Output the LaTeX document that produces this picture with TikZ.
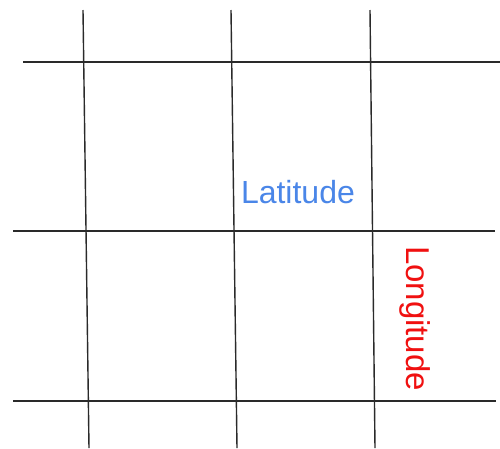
\documentclass[tikz,border=0pt]{standalone}
\usepackage{fontspec}
\setmainfont{Liberation Sans}
\definecolor{latblue}{HTML}{4A86E8}
\definecolor{lonred}{HTML}{F01010}
\definecolor{gridline}{HTML}{2A2A2A}
\begin{document}
\begin{tikzpicture}[x=1pt,y=-1pt,
  gridstroke/.style={draw=gridline,line width=1.4pt},
  lbl/.style={inner sep=0pt,outer sep=0pt}]
\useasboundingbox (0,0) rectangle (500,448);
\fill[white] (0,0) rectangle (500,448);
% horizontal lines
\coordinate (h1a) at (23,62);  \coordinate (h1b) at (500,62);
\coordinate (h2a) at (13,231); \coordinate (h2b) at (495,231);
\coordinate (h3a) at (13,401); \coordinate (h3b) at (496,401);
% vertical lines
\coordinate (v1a) at (83,10);  \coordinate (v1b) at (89,448);
\coordinate (v2a) at (231,10); \coordinate (v2b) at (237,448);
\coordinate (v3a) at (370,10); \coordinate (v3b) at (375,448);
\draw[gridstroke] (h1a) -- (h1b);
\draw[gridstroke] (h2a) -- (h2b);
\draw[gridstroke] (h3a) -- (h3b);
\draw[gridstroke] (v1a) -- (v1b);
\draw[gridstroke] (v2a) -- (v2b);
\draw[gridstroke] (v3a) -- (v3b);
\node[lbl,text=latblue,anchor=base west,font=\fontsize{32}{38}\selectfont] (lat) at (241,203.5) {Latitude};
\node[lbl,text=lonred,anchor=base west,rotate=-90,font=\fontsize{33}{39}\selectfont] (lon) at (406,246) {Longitude};
\end{tikzpicture}
\end{document}
